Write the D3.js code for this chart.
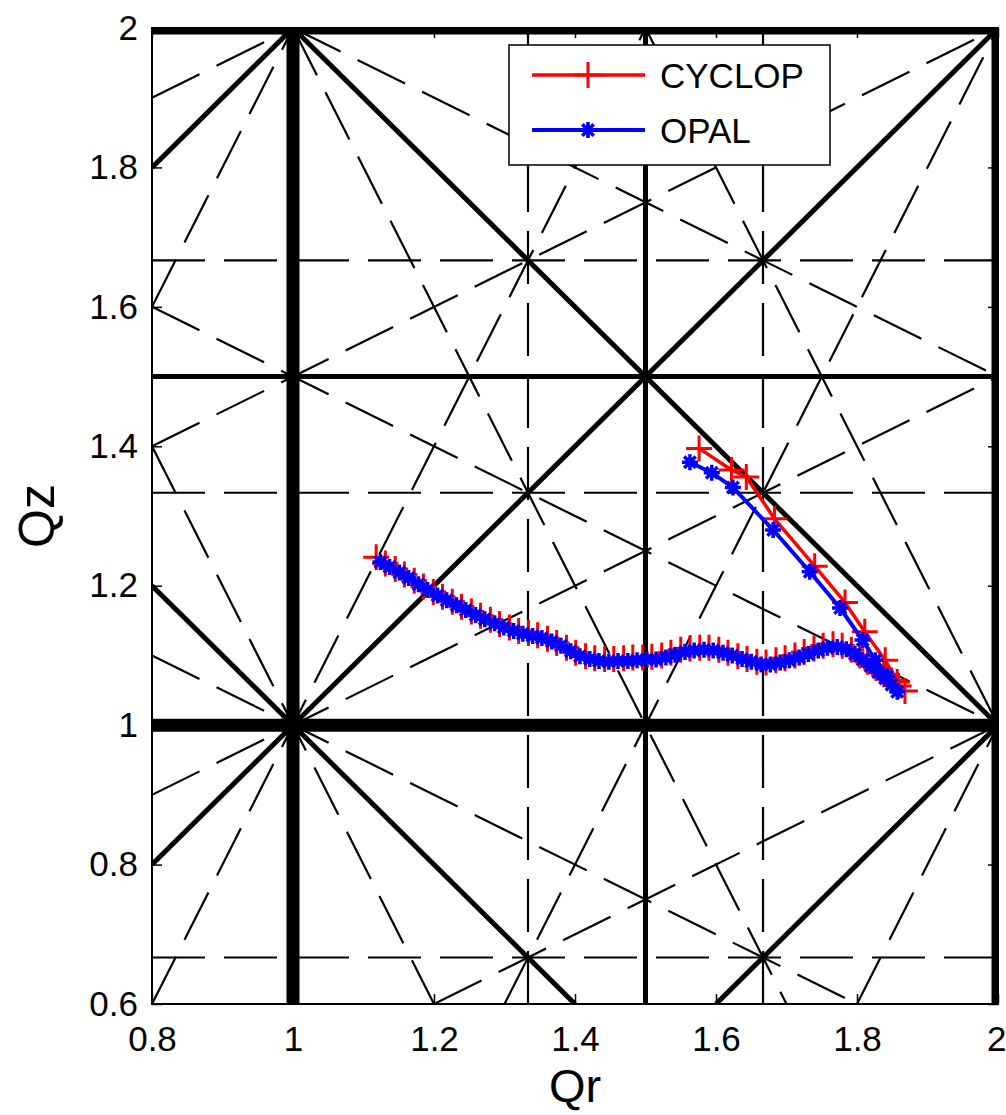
<!DOCTYPE html>
<html>
<head>
<meta charset="utf-8">
<script src="https://cdn.jsdelivr.net/npm/d3@7"></script>
<style>
  html, body { margin: 0; padding: 0; background: #fff; }
  svg { display: block; }
</style>
</head>
<body>
<script>
// ---------------- data ----------------
const xTicks = [0.8, 1, 1.2, 1.4, 1.6, 1.8, 2];
const xTickLabels = ["0.8", "1", "1.2", "1.4", "1.6", "1.8", "2"];
const yTicks = [0.6, 0.8, 1, 1.2, 1.4, 1.6, 1.8, 2];
const yTickLabels = ["0.6", "0.8", "1", "1.2", "1.4", "1.6", "1.8", "2"];

// resonance coefficients (a*Qr + b*Qz = n)
const resonanceOrder1 = [[1, 0], [0, 1]];
const resonanceOrder2 = [[2, 0], [0, 2], [1, 1], [1, -1]];
const resonanceOrder3 = [[3, 0], [0, 3], [2, 1], [2, -1], [1, 2], [1, -2]];

const seriesNames = ["CYCLOP", "OPAL"];

const cyclopQr = [1.118,1.131,1.145,1.158,1.172,1.185,1.199,1.212,1.226,1.239,1.253,1.266,1.280,1.293,1.307,1.320,1.334,1.347,1.361,1.374,1.388,1.401,1.415,1.428,1.442,1.455,1.469,1.482,1.496,1.509,1.523,1.536,1.550,1.563,1.577,1.590,1.604,1.617,1.631,1.644,1.658,1.671,1.685,1.698,1.712,1.725,1.739,1.752,1.766,1.779,1.792,1.804,1.815,1.827,1.838,1.849,1.859,1.868,
  1.857,1.840,1.811,1.783,1.740,1.683,1.643,1.622,1.576];
const cyclopQz = [1.241,1.232,1.224,1.216,1.207,1.199,1.191,1.184,1.177,1.170,1.163,1.157,1.151,1.145,1.140,1.135,1.132,1.129,1.124,1.118,1.111,1.104,1.099,1.096,1.095,1.095,1.096,1.097,1.097,1.098,1.100,1.104,1.108,1.110,1.111,1.111,1.108,1.104,1.099,1.095,1.091,1.090,1.093,1.096,1.100,1.105,1.110,1.114,1.116,1.114,1.108,1.100,1.091,1.082,1.073,1.064,1.056,1.049,
  1.062,1.093,1.134,1.176,1.228,1.296,1.356,1.366,1.397];

const opalQr = [1.124,1.137,1.151,1.164,1.178,1.191,1.205,1.218,1.232,1.245,1.259,1.272,1.286,1.299,1.313,1.326,1.340,1.353,1.367,1.380,1.394,1.407,1.421,1.434,1.448,1.461,1.475,1.488,1.502,1.515,1.529,1.542,1.556,1.569,1.583,1.596,1.610,1.623,1.637,1.650,1.664,1.677,1.691,1.704,1.718,1.731,1.745,1.758,1.772,1.785,1.797,1.808,1.819,1.830,1.840,1.849,1.857,
  1.843,1.826,1.808,1.776,1.733,1.681,1.624,1.594,1.563];
const opalQz = [1.234,1.227,1.219,1.211,1.202,1.194,1.186,1.179,1.172,1.165,1.158,1.152,1.146,1.140,1.135,1.131,1.128,1.125,1.120,1.114,1.106,1.099,1.095,1.092,1.091,1.092,1.092,1.093,1.094,1.094,1.097,1.101,1.105,1.107,1.108,1.107,1.104,1.100,1.095,1.091,1.087,1.087,1.090,1.093,1.097,1.102,1.107,1.111,1.112,1.109,1.102,1.094,1.085,1.076,1.067,1.058,1.048,
  1.070,1.093,1.122,1.168,1.220,1.280,1.341,1.362,1.377];

// ---------------- layout ----------------
const W = 1006, H = 1115;
const FONT = "'Liberation Sans', Arial, Helvetica, sans-serif";
const x = d3.scaleLinear().domain([0.8, 2]).range([152, 998]);
const y = d3.scaleLinear().domain([0.6, 2]).range([1004, 28]);
const [qx0, qx1] = x.domain();
const [qy0, qy1] = y.domain();

const svg = d3.select("body").append("svg").attr("width", W).attr("height", H);
svg.append("rect").attr("width", W).attr("height", H).attr("fill", "#fff");

svg.append("clipPath").attr("id", "plotclip").append("rect")
  .attr("x", x(qx0)).attr("y", y(qy1))
  .attr("width", x(qx1) - x(qx0)).attr("height", y(qy0) - y(qy1));

function gcd(a, b) { a = Math.abs(a); b = Math.abs(b); while (b) { [a, b] = [b, a % b]; } return a; }

function resonanceSegments(coeffs) {
  const segs = [];
  const eps = 1e-9;
  coeffs.forEach(([a, b]) => {
    const corners = [[qx0, qy0], [qx0, qy1], [qx1, qy0], [qx1, qy1]].map(([X, Y]) => a * X + b * Y);
    const nMin = Math.ceil(d3.min(corners) - eps), nMax = Math.floor(d3.max(corners) + eps);
    for (let n = nMin; n <= nMax; n++) {
      if (gcd(gcd(a, b), n) > 1) continue; // belongs to a lower order
      const pts = [];
      if (b !== 0) {
        [qx0, qx1].forEach(X => { const Y = (n - a * X) / b; if (Y >= qy0 - eps && Y <= qy1 + eps) pts.push([X, Y]); });
      }
      if (a !== 0) {
        [qy0, qy1].forEach(Y => { const X = (n - b * Y) / a; if (X >= qx0 - eps && X <= qx1 + eps) pts.push([X, Y]); });
      }
      if (pts.length < 2) continue;
      pts.sort((p, q) => (p[0] - q[0]) || (p[1] - q[1]));
      const p0 = pts[0], p1 = pts[pts.length - 1];
      if (Math.hypot(p1[0] - p0[0], p1[1] - p0[1]) < 1e-6) continue;
      segs.push([p0, p1]);
    }
  });
  return segs;
}

const gridG = svg.append("g").attr("clip-path", "url(#plotclip)");
function drawResonances(coeffs, width, dash) {
  gridG.append("g").selectAll("line").data(resonanceSegments(coeffs)).join("line")
    .attr("x1", d => x(d[0][0])).attr("y1", d => y(d[0][1]))
    .attr("x2", d => x(d[1][0])).attr("y2", d => y(d[1][1]))
    .attr("stroke", "#000").attr("stroke-width", width)
    .attr("stroke-dasharray", dash);
}
drawResonances(resonanceOrder3, 2.2, "53 19");
drawResonances(resonanceOrder2, 5, null);
drawResonances(resonanceOrder1, 13, null);

// axis box
svg.append("rect")
  .attr("x", x(qx0)).attr("y", y(qy1))
  .attr("width", x(qx1) - x(qx0)).attr("height", y(qy0) - y(qy1))
  .attr("fill", "none").attr("stroke", "#000").attr("stroke-width", 2);

// axes (ticks inside)
function styleAxis(g) {
  g.select(".domain").remove();
  g.attr("font-family", FONT).attr("font-size", 35);
  g.selectAll("line").attr("stroke", "#000").attr("stroke-width", 1.5);
  g.selectAll("text").attr("fill", "#000");
}
const gxb = svg.append("g").attr("transform", `translate(0,${y(qy0)})`)
  .call(d3.axisBottom(x).tickValues(xTicks).tickFormat((d, i) => xTickLabels[i])
    .tickSizeInner(-10).tickSizeOuter(0).tickPadding(22))
  .call(styleAxis);
// keep the last label inside the page edge
gxb.selectAll("text").filter(d => d === qx1).attr("text-anchor", "end").attr("dx", 8);
svg.append("g").attr("transform", `translate(0,${y(qy1)})`)
  .call(d3.axisTop(x).tickValues(xTicks).tickFormat("").tickSizeInner(-10).tickSizeOuter(0))
  .call(styleAxis);
svg.append("g").attr("transform", `translate(${x(qx0)},0)`)
  .call(d3.axisLeft(y).tickValues(yTicks).tickFormat((d, i) => yTickLabels[i])
    .tickSizeInner(-10).tickSizeOuter(0).tickPadding(14))
  .call(styleAxis);
svg.append("g").attr("transform", `translate(${x(qx1)},0)`)
  .call(d3.axisRight(y).tickValues(yTicks).tickFormat("").tickSizeInner(-10).tickSizeOuter(0))
  .call(styleAxis);

// ---------------- series ----------------
function plusPath(h) { return `M${-h},0H${h}M0,${-h}V${h}`; }
function starPath(h) {
  const k = h * 0.72;
  return `M${-h},0H${h}M0,${-h}V${h}M${-k},${-k}L${k},${k}M${-k},${k}L${k},${-k}`;
}
const series = [
  { name: seriesNames[0], qr: cyclopQr, qz: cyclopQz, color: "#ff0000", lw: 3.5, marker: plusPath(13), mw: 3 },
  { name: seriesNames[1], qr: opalQr, qz: opalQz, color: "#0000ff", lw: 4, marker: starPath(8), mw: 3.5 }
];
const line = d3.line().x(d => x(d[0])).y(d => y(d[1]));
const dataG = svg.append("g");
series.forEach(s => {
  const pts = s.qr.map((v, i) => [v, s.qz[i]]);
  const g = dataG.append("g");
  g.append("path").datum(pts).attr("d", line)
    .attr("fill", "none").attr("stroke", s.color).attr("stroke-width", s.lw).attr("stroke-linejoin", "round");
  g.selectAll("path.m").data(pts).join("path").attr("class", "m")
    .attr("transform", d => `translate(${x(d[0])},${y(d[1])})`)
    .attr("d", s.marker).attr("fill", "none").attr("stroke", s.color).attr("stroke-width", s.mw);
});

// ---------------- legend ----------------
const lg = svg.append("g");
lg.append("rect").attr("x", 509).attr("y", 45).attr("width", 321).attr("height", 120)
  .attr("fill", "#fff").attr("stroke", "#000").attr("stroke-width", 1.5);
series.forEach((s, i) => {
  const ly = 75 + i * 55;
  lg.append("line").attr("x1", 532).attr("x2", 645).attr("y1", ly).attr("y2", ly)
    .attr("stroke", s.color).attr("stroke-width", s.lw);
  lg.append("path").attr("transform", `translate(588,${ly})`).attr("d", s.marker)
    .attr("fill", "none").attr("stroke", s.color).attr("stroke-width", s.mw);
  lg.append("text").attr("x", 660).attr("y", ly + 12.5).text(s.name)
    .attr("font-family", FONT).attr("font-size", 35).attr("fill", "#000");
});

// ---------------- axis labels ----------------
svg.append("text").attr("x", (x(qx0) + x(qx1)) / 2).attr("y", 1102)
  .attr("text-anchor", "middle").attr("font-family", FONT).attr("font-size", 47).attr("fill", "#000")
  .text("Qr");
svg.append("text").attr("transform", `translate(54,${(y(qy0) + y(qy1)) / 2}) rotate(-90)`)
  .attr("text-anchor", "middle").attr("font-family", FONT).attr("font-size", 50).attr("fill", "#000")
  .text("Qz");
</script>
</body>
</html>
